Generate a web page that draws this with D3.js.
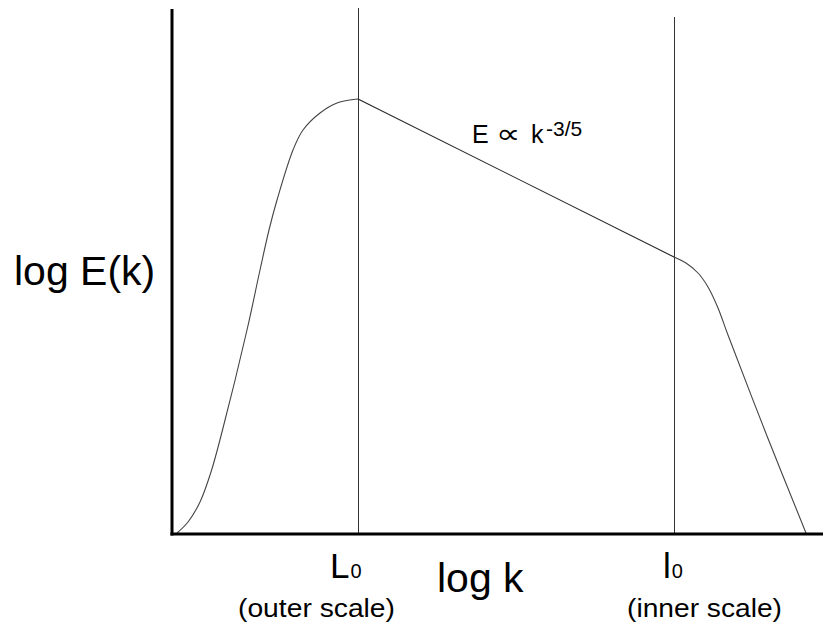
<!DOCTYPE html>
<html>
<head>
<meta charset="utf-8">
<script src="https://cdn.jsdelivr.net/npm/d3@7"></script>
<style>
  html, body { margin: 0; padding: 0; background: #fff; }
  svg { display: block; }
  text { font-family: "Liberation Sans", Arial, sans-serif; fill: #000; }
</style>
</head>
<body>
<svg id="chart" width="823" height="628"></svg>
<script>
// Schematic turbulence energy spectrum: log E(k) against log k (arbitrary units)
const xExtent = [0, 6.51];
const yExtent = [0, 5.25];

// Characteristic scales on the log k axis
const outerScaleK = 1.86;   // L0
const innerScaleK = 5.02;   // l0

// Energy-containing range: rise up to the outer scale
const riseK = [0.05, 0.16, 0.28, 0.39, 0.50, 0.75, 0.88, 0.97, 1.05, 1.21, 1.31, 1.48, 1.65, 1.86];
const riseE = [0.01, 0.12, 0.32, 0.62, 1.02, 2.04, 2.64, 3.04, 3.34, 3.84, 4.04, 4.21, 4.31, 4.35];

// Inertial range: straight power law between L0 and l0
const inertialK = [1.86, 5.02];
const inertialE = [4.35, 2.77];

// Dissipation range: fall-off beyond the inner scale
const fallK = [5.02, 5.14, 5.26, 5.36, 5.46, 5.56, 5.95, 6.34];
const fallE = [2.77, 2.71, 2.61, 2.47, 2.26, 1.99, 0.98, 0.01];

const svg = d3.select("#chart");
const x = d3.scaleLinear().domain(xExtent).range([172, 823]);
const y = d3.scaleLinear().domain(yExtent).range([534, 9]);

const zip = (ks, es) => ks.map((k, i) => ({ k, e: es[i] }));

// Scale markers (vertical lines at L0 and l0)
const markers = [
  { k: outerScaleK, top: 5.26 },
  { k: innerScaleK, top: 5.17 }
];
svg.selectAll("line.marker").data(markers).join("line")
  .attr("class", "marker")
  .attr("x1", d => x(d.k) + 0.5).attr("x2", d => x(d.k) + 0.5)
  .attr("y1", y(0)).attr("y2", d => y(d.top))
  .attr("stroke", "#333").attr("stroke-width", 1);

// Spectrum
const smooth = d3.line().x(d => x(d.k)).y(d => y(d.e)).curve(d3.curveCatmullRom.alpha(0.5));
const straight = d3.line().x(d => x(d.k)).y(d => y(d.e));

svg.append("path").attr("d", smooth(zip(riseK, riseE)))
  .attr("fill", "none").attr("stroke", "#444").attr("stroke-width", 1.1);
svg.append("path").attr("d", straight(zip(inertialK, inertialE)))
  .attr("fill", "none").attr("stroke", "#222").attr("stroke-width", 1.1);
svg.append("path").attr("d", smooth(zip(fallK, fallE)))
  .attr("fill", "none").attr("stroke", "#444").attr("stroke-width", 1.1);

// Axes (bold lines, no ticks)
svg.append("line")
  .attr("x1", x(0)).attr("x2", x(0))
  .attr("y1", y(0) + 1.5).attr("y2", y(yExtent[1]))
  .attr("stroke", "#000").attr("stroke-width", 3);
svg.append("line")
  .attr("x1", x(0) - 1.5).attr("x2", x(xExtent[1]))
  .attr("y1", y(0)).attr("y2", y(0))
  .attr("stroke", "#000").attr("stroke-width", 3);

// Axis titles
svg.append("text").attr("x", 14).attr("y", 285)
  .attr("font-size", 41).text("log E(k)");
svg.append("text").attr("x", 437).attr("y", 592)
  .attr("font-size", 41).text("log k");

// Scale labels under the markers
const scaleLabels = [
  { k: outerScaleK, sym: "L", dx: -28, sub: "(outer scale)", subX: 238, subW: 157 },
  { k: innerScaleK, sym: "l", dx: -11, sub: "(inner scale)", subX: 627, subW: 155 }
];
scaleLabels.forEach(d => {
  const t = svg.append("text").attr("x", x(d.k) + d.dx).attr("y", 578).attr("font-size", 35);
  t.append("tspan").text(d.sym);
  t.append("tspan").attr("font-size", 20).attr("dx", 1).text("0");
  svg.append("text").attr("x", d.subX).attr("y", 617).attr("font-size", 25)
    .attr("textLength", d.subW).attr("lengthAdjust", "spacingAndGlyphs")
    .text(d.sub);
});

// Power-law annotation: E ∝ k^(-3/5)
const ann = svg.append("g");
ann.append("text").attr("x", 472).attr("y", 143).attr("font-size", 25).text("E");
ann.append("text").attr("x", 496).attr("y", 143).attr("font-size", 27)
  .attr("font-family", "DejaVu Sans").attr("textLength", 24)
  .attr("lengthAdjust", "spacingAndGlyphs").text("\u221D");
ann.append("text").attr("x", 531).attr("y", 143).attr("font-size", 25).text("k");
ann.append("text").attr("x", 546).attr("y", 136).attr("font-size", 21).text("-3/5");
</script>
</body>
</html>
